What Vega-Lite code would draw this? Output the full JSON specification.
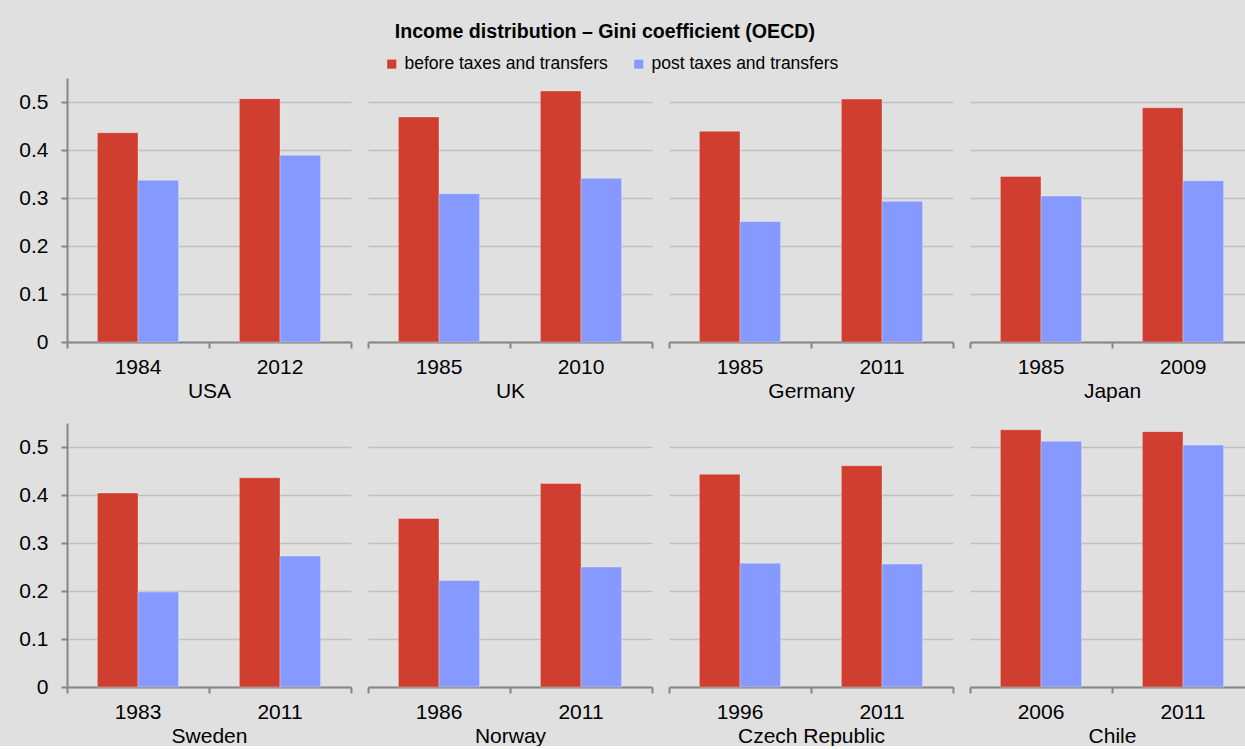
{
  "$schema": "https://vega.github.io/schema/vega-lite/v6.json",
  "background": "#e0e0e0",
  "padding": {"left": 18, "top": 22, "right": 0, "bottom": 0},
  "title": {
    "text": "Income distribution – Gini coefficient (OECD)",
    "font": "Liberation Sans",
    "fontSize": 19.6,
    "fontWeight": "bold",
    "color": "#000000",
    "anchor": "middle",
    "dx": -32,
    "offset": 12
  },
  "data": {
    "values": [
      {"country": "USA", "year": "1984", "series": "before taxes and transfers", "value": 0.436},
      {"country": "USA", "year": "1984", "series": "post taxes and transfers", "value": 0.337},
      {"country": "USA", "year": "2012", "series": "before taxes and transfers", "value": 0.507},
      {"country": "USA", "year": "2012", "series": "post taxes and transfers", "value": 0.389},
      {"country": "UK", "year": "1985", "series": "before taxes and transfers", "value": 0.469},
      {"country": "UK", "year": "1985", "series": "post taxes and transfers", "value": 0.309},
      {"country": "UK", "year": "2010", "series": "before taxes and transfers", "value": 0.523},
      {"country": "UK", "year": "2010", "series": "post taxes and transfers", "value": 0.341},
      {"country": "Germany", "year": "1985", "series": "before taxes and transfers", "value": 0.439},
      {"country": "Germany", "year": "1985", "series": "post taxes and transfers", "value": 0.251},
      {"country": "Germany", "year": "2011", "series": "before taxes and transfers", "value": 0.506},
      {"country": "Germany", "year": "2011", "series": "post taxes and transfers", "value": 0.293},
      {"country": "Japan", "year": "1985", "series": "before taxes and transfers", "value": 0.345},
      {"country": "Japan", "year": "1985", "series": "post taxes and transfers", "value": 0.304},
      {"country": "Japan", "year": "2009", "series": "before taxes and transfers", "value": 0.488},
      {"country": "Japan", "year": "2009", "series": "post taxes and transfers", "value": 0.336},
      {"country": "Sweden", "year": "1983", "series": "before taxes and transfers", "value": 0.404},
      {"country": "Sweden", "year": "1983", "series": "post taxes and transfers", "value": 0.198},
      {"country": "Sweden", "year": "2011", "series": "before taxes and transfers", "value": 0.436},
      {"country": "Sweden", "year": "2011", "series": "post taxes and transfers", "value": 0.273},
      {"country": "Norway", "year": "1986", "series": "before taxes and transfers", "value": 0.351},
      {"country": "Norway", "year": "1986", "series": "post taxes and transfers", "value": 0.222},
      {"country": "Norway", "year": "2011", "series": "before taxes and transfers", "value": 0.424},
      {"country": "Norway", "year": "2011", "series": "post taxes and transfers", "value": 0.250},
      {"country": "Czech Republic", "year": "1996", "series": "before taxes and transfers", "value": 0.443},
      {"country": "Czech Republic", "year": "1996", "series": "post taxes and transfers", "value": 0.258},
      {"country": "Czech Republic", "year": "2011", "series": "before taxes and transfers", "value": 0.461},
      {"country": "Czech Republic", "year": "2011", "series": "post taxes and transfers", "value": 0.256},
      {"country": "Chile", "year": "2006", "series": "before taxes and transfers", "value": 0.536},
      {"country": "Chile", "year": "2006", "series": "post taxes and transfers", "value": 0.512},
      {"country": "Chile", "year": "2011", "series": "before taxes and transfers", "value": 0.532},
      {"country": "Chile", "year": "2011", "series": "post taxes and transfers", "value": 0.504}
    ]
  },
  "resolve": {"scale": {"x": "independent", "xOffset": "independent", "y": "independent"}},
  "spacing": 22,
  "vconcat": [
    {
      "spacing": 15,
      "resolve": {"scale": {"x": "independent", "xOffset": "independent", "y": "independent"}},
      "hconcat": [
        {
          "transform": [{"filter": "datum.country == 'USA'"}],
          "mark": "bar",
          "encoding": {
            "x": {"field": "year", "type": "nominal", "scale": {"paddingInner": 0, "paddingOuter": 0}, "axis": {"title": "USA"}},
            "xOffset": {"field": "series", "type": "nominal", "scale": {"paddingInner": 0, "paddingOuter": 0.748}},
            "y": {"field": "value", "type": "quantitative", "scale": {"domain": [0, 0.55], "nice": false}, "axis": {"title": null, "values": [0, 0.1, 0.2, 0.3, 0.4, 0.5], "format": ".1~f"}},
            "color": {"field": "series", "type": "nominal", "title": null, "scale": {"domain": ["before taxes and transfers", "post taxes and transfers"], "range": ["#d03e30", "#8599ff"]}}
          }
        },
        {
          "transform": [{"filter": "datum.country == 'UK'"}],
          "mark": "bar",
          "encoding": {
            "x": {"field": "year", "type": "nominal", "scale": {"paddingInner": 0, "paddingOuter": 0}, "axis": {"title": "UK"}},
            "xOffset": {"field": "series", "type": "nominal", "scale": {"paddingInner": 0, "paddingOuter": 0.748}},
            "y": {"field": "value", "type": "quantitative", "scale": {"domain": [0, 0.55], "nice": false}, "axis": {"title": null, "values": [0, 0.1, 0.2, 0.3, 0.4, 0.5], "labels": false, "ticks": false, "domain": false}},
            "color": {"field": "series", "type": "nominal", "title": null}
          }
        },
        {
          "transform": [{"filter": "datum.country == 'Germany'"}],
          "mark": "bar",
          "encoding": {
            "x": {"field": "year", "type": "nominal", "scale": {"paddingInner": 0, "paddingOuter": 0}, "axis": {"title": "Germany"}},
            "xOffset": {"field": "series", "type": "nominal", "scale": {"paddingInner": 0, "paddingOuter": 0.748}},
            "y": {"field": "value", "type": "quantitative", "scale": {"domain": [0, 0.55], "nice": false}, "axis": {"title": null, "values": [0, 0.1, 0.2, 0.3, 0.4, 0.5], "labels": false, "ticks": false, "domain": false}},
            "color": {"field": "series", "type": "nominal", "title": null}
          }
        },
        {
          "transform": [{"filter": "datum.country == 'Japan'"}],
          "mark": "bar",
          "encoding": {
            "x": {"field": "year", "type": "nominal", "scale": {"paddingInner": 0, "paddingOuter": 0}, "axis": {"title": "Japan"}},
            "xOffset": {"field": "series", "type": "nominal", "scale": {"paddingInner": 0, "paddingOuter": 0.748}},
            "y": {"field": "value", "type": "quantitative", "scale": {"domain": [0, 0.55], "nice": false}, "axis": {"title": null, "values": [0, 0.1, 0.2, 0.3, 0.4, 0.5], "labels": false, "ticks": false, "domain": false}},
            "color": {"field": "series", "type": "nominal", "title": null}
          }
        }
      ]
    },
    {
      "spacing": 15,
      "resolve": {"scale": {"x": "independent", "xOffset": "independent", "y": "independent"}},
      "hconcat": [
        {
          "transform": [{"filter": "datum.country == 'Sweden'"}],
          "mark": "bar",
          "encoding": {
            "x": {"field": "year", "type": "nominal", "scale": {"paddingInner": 0, "paddingOuter": 0}, "axis": {"title": "Sweden"}},
            "xOffset": {"field": "series", "type": "nominal", "scale": {"paddingInner": 0, "paddingOuter": 0.748}},
            "y": {"field": "value", "type": "quantitative", "scale": {"domain": [0, 0.55], "nice": false}, "axis": {"title": null, "values": [0, 0.1, 0.2, 0.3, 0.4, 0.5], "format": ".1~f"}},
            "color": {"field": "series", "type": "nominal", "title": null}
          }
        },
        {
          "transform": [{"filter": "datum.country == 'Norway'"}],
          "mark": "bar",
          "encoding": {
            "x": {"field": "year", "type": "nominal", "scale": {"paddingInner": 0, "paddingOuter": 0}, "axis": {"title": "Norway"}},
            "xOffset": {"field": "series", "type": "nominal", "scale": {"paddingInner": 0, "paddingOuter": 0.748}},
            "y": {"field": "value", "type": "quantitative", "scale": {"domain": [0, 0.55], "nice": false}, "axis": {"title": null, "values": [0, 0.1, 0.2, 0.3, 0.4, 0.5], "labels": false, "ticks": false, "domain": false}},
            "color": {"field": "series", "type": "nominal", "title": null}
          }
        },
        {
          "transform": [{"filter": "datum.country == 'Czech Republic'"}],
          "mark": "bar",
          "encoding": {
            "x": {"field": "year", "type": "nominal", "scale": {"paddingInner": 0, "paddingOuter": 0}, "axis": {"title": "Czech Republic"}},
            "xOffset": {"field": "series", "type": "nominal", "scale": {"paddingInner": 0, "paddingOuter": 0.748}},
            "y": {"field": "value", "type": "quantitative", "scale": {"domain": [0, 0.55], "nice": false}, "axis": {"title": null, "values": [0, 0.1, 0.2, 0.3, 0.4, 0.5], "labels": false, "ticks": false, "domain": false}},
            "color": {"field": "series", "type": "nominal", "title": null}
          }
        },
        {
          "transform": [{"filter": "datum.country == 'Chile'"}],
          "mark": "bar",
          "encoding": {
            "x": {"field": "year", "type": "nominal", "scale": {"paddingInner": 0, "paddingOuter": 0}, "axis": {"title": "Chile"}},
            "xOffset": {"field": "series", "type": "nominal", "scale": {"paddingInner": 0, "paddingOuter": 0.748}},
            "y": {"field": "value", "type": "quantitative", "scale": {"domain": [0, 0.55], "nice": false}, "axis": {"title": null, "values": [0, 0.1, 0.2, 0.3, 0.4, 0.5], "labels": false, "ticks": false, "domain": false}},
            "color": {"field": "series", "type": "nominal", "title": null}
          }
        }
      ]
    }
  ],
  "config": {
    "font": "Liberation Sans",
    "view": {"stroke": null, "continuousWidth": 284, "continuousHeight": 264, "discreteWidth": 284, "discreteHeight": 264},
    "bar": {"stroke": "#ffffff", "strokeOpacity": 0.3, "strokeWidth": 1},
    "axis": {
      "labelFont": "Liberation Sans",
      "labelFontSize": 21,
      "labelColor": "#000000",
      "titleFont": "Liberation Sans",
      "titleFontSize": 21,
      "titleFontWeight": "normal",
      "titleColor": "#000000",
      "domainColor": "#868686",
      "domainWidth": 2,
      "tickColor": "#868686",
      "tickWidth": 2,
      "tickSize": 6,
      "gridColor": "#c0c0c0",
      "gridWidth": 1.5
    },
    "axisX": {"labelPadding": 8, "grid": false, "bandPosition": 1, "tickExtra": true, "labelAngle": 0, "titlePadding": 3},
    "axisY": {"labelPadding": 13, "grid": true},
    "legend": {
      "orient": "none",
      "legendX": 316,
      "legendY": -23,
      "direction": "horizontal",
      "symbolType": "square",
      "symbolSize": 90,
      "symbolStrokeWidth": 0,
      "labelFont": "Liberation Sans",
      "labelFontSize": 17.5,
      "labelColor": "#000000",
      "labelLimit": 0,
      "labelOffset": 4,
      "columnPadding": 22,
      "padding": 0
    }
  }
}
